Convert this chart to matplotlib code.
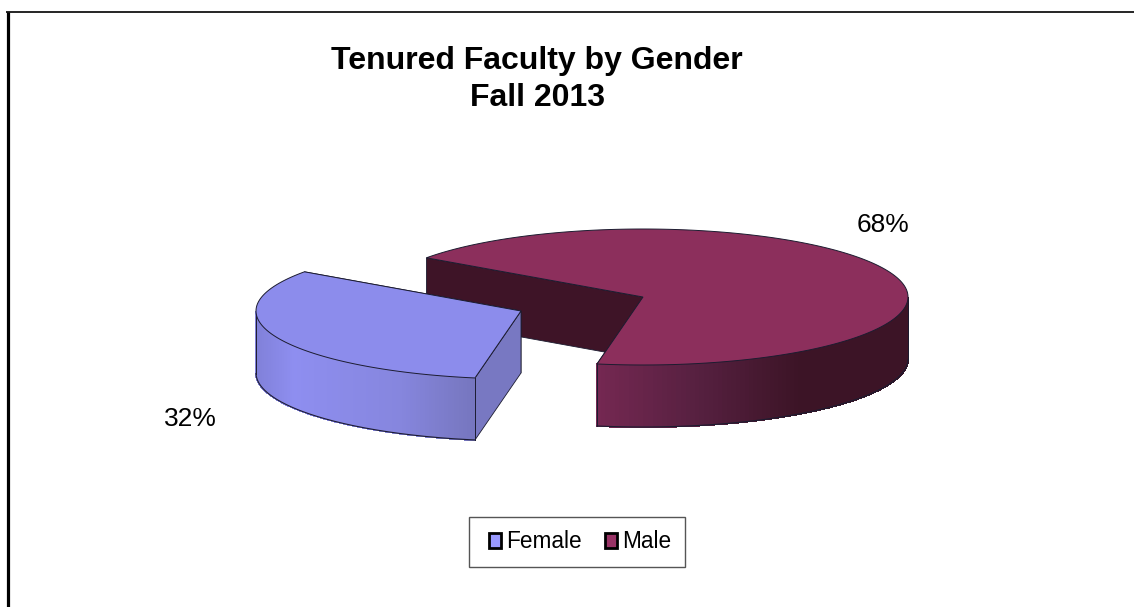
import numpy as np
import matplotlib
matplotlib.use("Agg")
import matplotlib.pyplot as plt
from matplotlib.patches import Polygon, Patch, Rectangle
from matplotlib.collections import PolyCollection

plt.rcParams['font.family'] = ['Liberation Sans', 'DejaVu Sans']

categories = ["Female", "Male"]
values = [32, 68]
title_lines = ["Tenured Faculty by Gender", "Fall 2013"]

top_colors = {"Female": "#8C8CEC", "Male": "#8C2F5C"}
legend_colors = {"Female": "#9999FF", "Male": "#993366"}
cut_colors = {"Female": "#7878C2", "Male": "#3E1427"}
wall_stops = {
    "Female": ([256, 295, 400, 476], ["#8080D8", "#8E8EF0", "#8686DE", "#7676BE"]),
    "Male": ([597, 700, 800, 908], ["#752852", "#562040", "#3C1426", "#3C1426"]),
}
centers = {"Female": (521, 311), "Male": (643, 297)}
label_pos = {"Female": (190, 419), "Male": (883, 225)}
RX, RY, DEPTH = 265, 68, 62
START = -100.0  # Male starts here, sweeping counter-clockwise on screen
EDGE = "#1c1c30"

fig = plt.figure(figsize=(11.34, 6.07), dpi=100)
ax = fig.add_axes([0, 0, 1, 1])
ax.set_xlim(0, 1134)
ax.set_ylim(607, 0)
ax.axis("off")

# chart frame
ax.plot([7.5, 7.5], [607, 12], color="black", lw=2.3, solid_capstyle="butt")
ax.plot([6, 1134], [12, 12], color="black", lw=1.2, solid_capstyle="butt")


def hex2rgb(h):
    return np.array(matplotlib.colors.to_rgb(h))


def wall_color(name, x):
    xs, cols = wall_stops[name]
    rgb = np.array([hex2rgb(c) for c in cols])
    return [np.interp(x, xs, rgb[:, i]) for i in range(3)]


def ell(c, deg, dy=0.0):
    t = np.radians(deg)
    return c[0] + RX * np.cos(t), c[1] - RY * np.sin(t) + dy


def draw_slice(name, a0, a1, z):
    c = centers[name]
    th = np.linspace(a0, a1, 240)
    px, py = ell(c, th)
    vis = np.sin(np.radians(th)) <= 1e-9
    tv = th[vis]
    pts_a = [ell(c, a0), c, (c[0], c[1] + DEPTH), ell(c, a0, DEPTH)]
    pts_b = [ell(c, a1), c, (c[0], c[1] + DEPTH), ell(c, a1, DEPTH)]
    for pts in (pts_a, pts_b):
        ax.add_patch(Polygon(pts, closed=True, fc=cut_colors[name], ec=EDGE, lw=0.6, zorder=z))
    if len(tv) > 1:
        x0, y0 = ell(c, tv)
        x1, y1 = ell(c, tv, DEPTH)
        quads = [[(x0[i], y0[i]), (x0[i + 1], y0[i + 1]), (x1[i + 1], y1[i + 1]), (x1[i], y1[i])]
                 for i in range(len(tv) - 1)]
        cols = [wall_color(name, 0.5 * (x0[i] + x0[i + 1])) for i in range(len(tv) - 1)]
        ax.add_collection(PolyCollection(quads, facecolors=cols, edgecolors=cols, linewidths=0.8,
                                         antialiaseds=False, zorder=z + 0.1))
        ax.plot(x1, y1, color=EDGE, lw=0.8, zorder=z + 0.2)
        ax.plot([x0[0], x1[0]], [y0[0], y1[0]], color=EDGE, lw=0.7, zorder=z + 0.2)
        ax.plot([x0[-1], x1[-1]], [y0[-1], y1[-1]], color=EDGE, lw=0.7, zorder=z + 0.2)
    verts = [c] + list(zip(px, py))
    ax.add_patch(Polygon(verts, closed=True, fc=top_colors[name], ec=EDGE, lw=0.7, zorder=z + 0.3))


total = sum(values)
male_sweep = 360.0 * values[1] / total
female_sweep = 360.0 * values[0] / total
draw_slice("Male", START, START + male_sweep, 2)
draw_slice("Female", START + male_sweep, START + male_sweep + female_sweep, 3)

for name, v in zip(categories, values):
    x, y = label_pos[name]
    ax.text(x, y, f"{v}%", fontsize=19, ha="center", va="center", color="black", zorder=5)

ax.text(537, 61.5, title_lines[0], fontsize=23, fontweight="bold", ha="center", va="center")
ax.text(537, 98, title_lines[1], fontsize=23, fontweight="bold", ha="center", va="center")

# legend frame and legend
ax.add_patch(Rectangle((468.5, 516.5), 216, 50.5, fc="white", ec="#555555", lw=1.0, zorder=5.5))
handles = [Patch(facecolor=legend_colors[n], edgecolor="black", linewidth=2.0, label=n) for n in categories]
leg = ax.legend(handles=handles, loc="center", bbox_to_anchor=(580, 542), bbox_transform=ax.transData,
                ncol=2, fontsize=16.3, frameon=False,
                handlelength=0.55, handleheight=0.6, handletextpad=0.2,
                columnspacing=1.03, borderpad=0.2, borderaxespad=0)
leg.set_zorder(6)

fig.savefig("out.png", dpi=100, facecolor="white")
